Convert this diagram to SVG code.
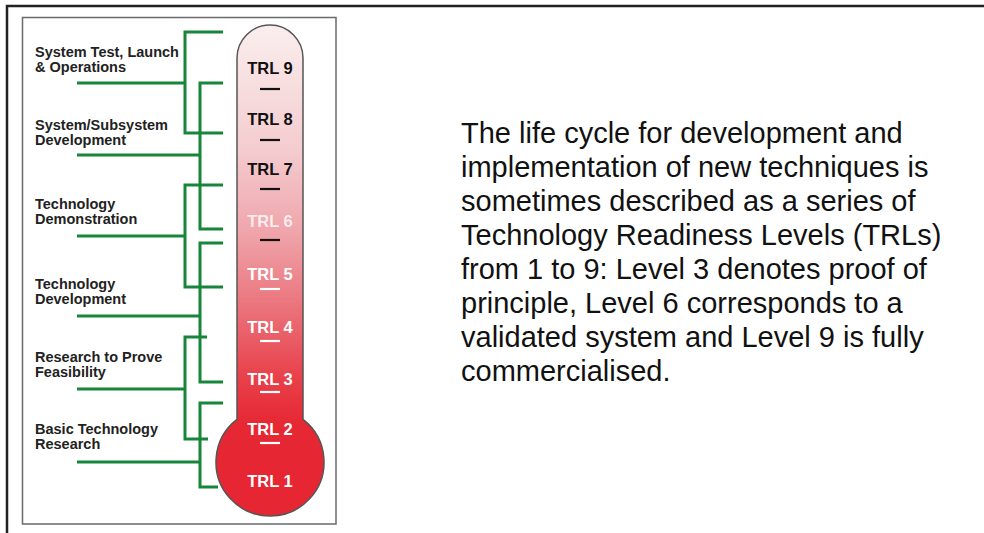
<svg xmlns="http://www.w3.org/2000/svg" width="984" height="533" viewBox="0 0 984 533">
<style>
.lbl{font-family:"Liberation Sans",Arial,sans-serif;font-weight:bold;font-size:14.5px;fill:#222}
.trl{font-family:"Liberation Sans",Arial,sans-serif;font-weight:bold;font-size:16.5px;text-anchor:middle}
.body{font-family:"Liberation Sans",Arial,sans-serif;font-size:29px;fill:#111}
.g{fill:none;stroke:#17853a;stroke-width:3}
</style>
<defs>
<linearGradient id="therm" gradientUnits="userSpaceOnUse" x1="0" y1="25" x2="0" y2="516">
<stop offset="0" stop-color="#faeeee"/>
<stop offset="0.255" stop-color="#f4cccf"/>
<stop offset="0.417" stop-color="#efa6ac"/>
<stop offset="0.56" stop-color="#eb7880"/>
<stop offset="0.72" stop-color="#e8404a"/>
<stop offset="0.81" stop-color="#e62834"/>
<stop offset="1" stop-color="#e62632"/>
</linearGradient>
</defs>
<rect x="0" y="0" width="984" height="533" fill="#ffffff"/>
<g id="frame">
<path d="M7,533 V6 H984" fill="none" stroke="#222" stroke-width="2.5"/>
<rect x="22.5" y="17.5" width="313.5" height="506.5" fill="none" stroke="#6a6a6a" stroke-width="1.5"/>
</g>
<g id="thermometer">
<path d="M237,58 A33,33 0 0 1 303,58 L303,419.3 A54,54 0 1 1 237,419.3 Z" fill="url(#therm)" stroke="#555" stroke-width="1.5"/>
</g>
<g id="trl-levels">
<text class="trl" x="270" y="74" fill="#111">TRL 9</text>
<text class="trl" x="270" y="125" fill="#111">TRL 8</text>
<text class="trl" x="270" y="175" fill="#111">TRL 7</text>
<text class="trl" x="270" y="227" fill="#fff" fill-opacity="0.8">TRL 6</text>
<text class="trl" x="270" y="280" fill="#fff">TRL 5</text>
<text class="trl" x="270" y="333" fill="#fff">TRL 4</text>
<text class="trl" x="270" y="385" fill="#fff">TRL 3</text>
<text class="trl" x="270" y="435" fill="#fff">TRL 2</text>
<text class="trl" x="270" y="487" fill="#fff">TRL 1</text>
<g stroke-width="2.2">
<line x1="260" y1="89" x2="280" y2="89" stroke="#111"/>
<line x1="260" y1="140" x2="280" y2="140" stroke="#111"/>
<line x1="260" y1="189" x2="280" y2="189" stroke="#111"/>
<line x1="260" y1="240" x2="280" y2="240" stroke="#111"/>
<line x1="260" y1="289" x2="280" y2="289" stroke="#fff"/>
<line x1="260" y1="341" x2="280" y2="341" stroke="#fff"/>
<line x1="260" y1="392" x2="280" y2="392" stroke="#fff"/>
<line x1="260" y1="443" x2="280" y2="443" stroke="#fff"/>
</g>
</g>
<g id="connectors">
<path class="g" d="M77,83 H185"/>
<path class="g" d="M223,32 H185 V133 H223"/>
<path class="g" d="M77,155 H200"/>
<path class="g" d="M223,83 H200 V229 H223"/>
<path class="g" d="M77,236 H185"/>
<path class="g" d="M223,185 H185 V287 H223"/>
<path class="g" d="M77,316 H200"/>
<path class="g" d="M223,243 H200 V382 H223"/>
<path class="g" d="M77,389 H185"/>
<path class="g" d="M207,337 H185 V439 H208"/>
<path class="g" d="M77,462 H200"/>
<path class="g" d="M223,403 H200 V487 H218"/>
</g>
<g id="stage-1"><text class="lbl" x="35" y="57">System Test, Launch</text><text class="lbl" x="35" y="72">&amp; Operations</text></g>
<g id="stage-2"><text class="lbl" x="35" y="130">System/Subsystem</text><text class="lbl" x="35" y="145">Development</text></g>
<g id="stage-3"><text class="lbl" x="35" y="209">Technology</text><text class="lbl" x="35" y="224">Demonstration</text></g>
<g id="stage-4"><text class="lbl" x="35" y="289">Technology</text><text class="lbl" x="35" y="304">Development</text></g>
<g id="stage-5"><text class="lbl" x="35" y="362">Research to Prove</text><text class="lbl" x="35" y="377">Feasibility</text></g>
<g id="stage-6"><text class="lbl" x="35" y="434">Basic Technology</text><text class="lbl" x="35" y="449">Research</text></g>
<g id="description">
<text class="body" x="461" y="143">The life cycle for development and</text>
<text class="body" x="461" y="177">implementation of new techniques is</text>
<text class="body" x="461" y="211">sometimes described as a series of</text>
<text class="body" x="461" y="245">Technology Readiness Levels (TRLs)</text>
<text class="body" x="461" y="279">from 1 to 9: Level 3 denotes proof of</text>
<text class="body" x="461" y="313">principle, Level 6 corresponds to a</text>
<text class="body" x="461" y="347">validated system and Level 9 is fully</text>
<text class="body" x="461" y="381">commercialised.</text>
</g>
</svg>
